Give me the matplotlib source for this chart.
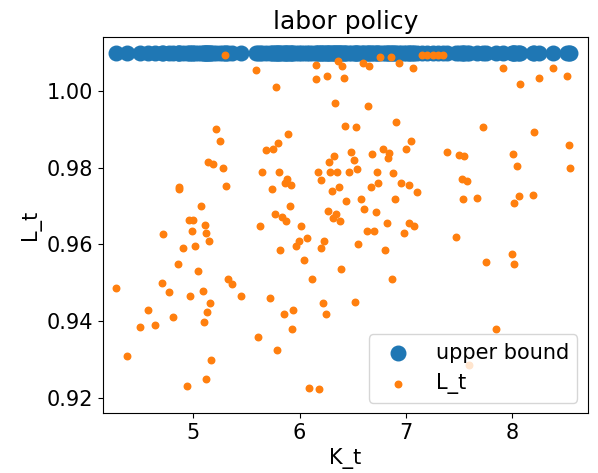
import matplotlib
matplotlib.use("Agg")
import matplotlib.pyplot as plt
import numpy as np

K_t = [4.27,4.38,4.5,4.57,4.64,4.71,4.72,4.77,4.81,4.86,4.87,4.87,4.9,4.94,4.96,4.97,4.99,5.0,5.02,5.04,
5.07,5.09,5.1,5.11,5.12,5.12,5.13,5.14,5.15,5.16,5.17,5.19,5.21,5.25,5.28,5.3,5.31,5.33,5.36,5.45,
5.59,5.61,5.63,5.65,5.68,5.72,5.74,5.75,5.77,5.78,5.79,5.8,5.81,5.82,5.83,5.85,5.86,5.87,5.88,5.89,
5.91,5.92,5.93,5.94,5.97,5.99,6.01,6.04,6.07,6.09,6.12,6.15,6.15,6.17,6.18,6.2,6.2,6.22,6.23,6.25,
6.26,6.27,6.28,6.29,6.3,6.31,6.32,6.33,6.34,6.35,6.36,6.37,6.38,6.39,6.4,6.42,6.43,6.44,6.46,6.48,
6.51,6.52,6.53,6.54,6.55,6.58,6.6,6.61,6.63,6.64,6.65,6.67,6.68,6.7,6.72,6.73,6.74,6.76,6.78,6.8,
6.82,6.83,6.84,6.86,6.87,6.88,6.9,6.91,6.93,6.95,6.98,7.0,7.03,7.03,7.05,7.07,7.08,7.1,7.39,7.47,
7.5,7.53,7.54,7.55,7.57,7.59,7.67,7.72,7.75,7.85,7.91,8.0,8.01,8.02,8.02,8.04,8.06,8.07,8.19,8.2,
8.25,8.38,8.51,8.53,8.54,7.15,7.2,7.25,7.3,7.35]
L_t = [0.9486,0.931,0.9385,0.943,0.939,0.950,0.9627,0.9475,0.941,0.955,0.975,0.9745,0.959,0.923,0.9665,0.9465,0.9635,0.9665,0.9595,0.953,
0.970,0.948,0.9398,0.965,0.925,0.963,0.9425,0.9815,0.961,0.9448,0.930,0.981,0.990,0.987,0.980,1.0093,0.9752,0.951,0.9498,0.9465,
1.0055,0.936,0.9648,0.979,0.9845,0.946,0.9745,0.985,0.968,1.001,0.9325,0.9865,0.9788,0.9585,0.9672,0.942,0.976,0.9662,0.977,0.9888,
0.970,0.9756,0.938,0.943,0.9597,0.961,0.9648,0.956,0.9616,0.9225,0.951,1.003,1.0068,0.9788,0.9223,0.959,0.9768,0.9448,0.961,0.942,
1.004,0.9688,0.9815,0.9788,0.974,0.967,0.983,0.997,0.968,0.979,1.0078,0.975,0.9662,0.9535,1.0065,1.0033,0.991,0.9713,0.979,0.984,
0.982,0.945,0.9905,0.9796,0.960,0.9718,1.0074,0.9692,0.9635,0.9962,1.0065,0.975,0.9835,0.9635,0.9685,0.979,0.976,1.0088,0.9848,0.9585,
0.9655,0.9825,0.9838,1.0088,0.951,0.9785,0.9718,0.992,1.0073,0.976,0.963,0.985,0.9755,0.9655,0.987,1.006,0.9648,0.9738,0.984,0.962,
0.9832,0.977,0.9718,0.983,0.9766,0.9285,0.972,0.9905,0.9555,0.938,1.006,0.9575,0.9835,0.9548,0.9708,0.9805,0.9726,1.0017,0.9728,0.9892,
1.0033,1.006,1.004,0.986,0.980,1.0095,1.0095,1.0095,1.0095,1.0095]
upper = 1.01

plt.rcParams['font.size'] = 15
fig = plt.figure(figsize=(5.98, 4.73), dpi=100)
ax = fig.add_axes([0.172, 0.127, 0.811, 0.795])
ax.scatter(K_t, [upper]*len(K_t), s=110, color='#1f77b4', label='upper bound')
ax.scatter(K_t, L_t, s=22, color='#ff7f0e', label='L_t')
ax.set_xlim(4.15, 8.71)
ax.set_ylim(0.9161, 1.0141)
ax.set_yticks([0.92, 0.94, 0.96, 0.98, 1.00])
ax.set_xlabel('K_t')
ax.set_ylabel('L_t')
ax.set_title('labor policy')
ax.legend(loc='lower right')
fig.savefig('out.png', dpi=100)
